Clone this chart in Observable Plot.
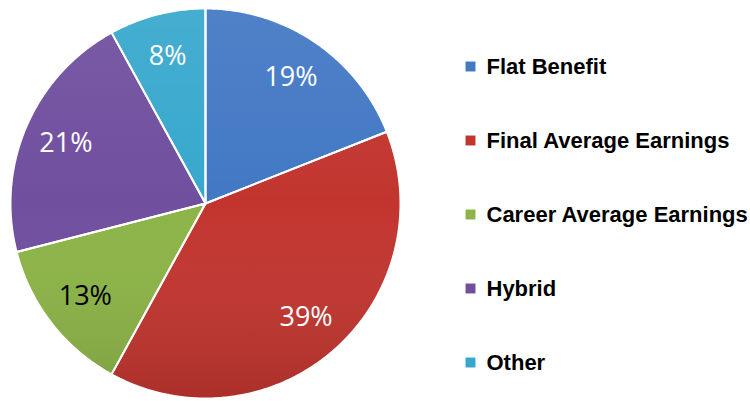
<!DOCTYPE html>
<html><head><meta charset="utf-8">
<script src="https://cdn.jsdelivr.net/npm/d3@7"></script>
<script src="https://cdn.jsdelivr.net/npm/@observablehq/plot@0.6"></script>
<style>
body{margin:0;background:#fff;}
#wrap{position:relative;width:750px;height:401px;overflow:hidden;}
#pie{position:absolute;left:0;top:0}
#legend{position:absolute;left:450px;top:0}
</style>
</head><body><div id="wrap"><div id="pie"></div><div id="legend"></div></div>
<script>
const categories = ["Flat Benefit","Final Average Earnings","Career Average Earnings","Hybrid","Other"];
const shares = [19,39,13,21,8];
const labels = ["19%","39%","13%","21%","8%"];
const colors = ["#4278c4","#c2352f","#8cb447","#704f9f","#37a8cd"];
const labelColors = ["white","white","black","white","white"];

const arcs = d3.pie().sort(null).value(d => d)(shares);
const pts = [];
const labelPts = [];
arcs.forEach((a, i) => {
  pts.push({name: categories[i], x: 0, y: 0});
  const n = Math.max(2, Math.ceil((a.endAngle - a.startAngle) / 0.01));
  for (let k = 0; k <= n; k++) {
    const t = a.startAngle + (a.endAngle - a.startAngle) * k / n;
    pts.push({name: categories[i], x: Math.sin(t), y: Math.cos(t)});
  }
  const m = (a.startAngle + a.endAngle) / 2;
  labelPts.push({name: categories[i], label: labels[i], c: labelColors[i], x: 0.78 * Math.sin(m), y: 0.78 * Math.cos(m)});
});

const pie = Plot.plot({
  width: 750, height: 401,
  marginLeft: 10, marginRight: 350, marginTop: 8, marginBottom: 3,
  x: {domain: [-1, 1], axis: null},
  y: {domain: [-1, 1], axis: null},
  color: {domain: categories, range: colors},
  style: {background: "transparent"},
  marks: [
    Plot.line(pts, {x: "x", y: "y", z: "name", fill: "name", stroke: "none", curve: "linear-closed"}),
    Plot.line(pts, {x: "x", y: "y", z: "name", fill: "url(#shade)", stroke: "white", strokeWidth: 2, curve: "linear-closed"}),
    Plot.text(labelPts.filter(d => d.c === "white"), {x: "x", y: "y", text: "label", fill: "white", fontSize: 27, fontFamily: "Open Sans"}),
    Plot.text(labelPts.filter(d => d.c === "black"), {x: "x", y: "y", text: "label", fill: "black", fontSize: 27, fontFamily: "Open Sans"})
  ]
});
const ns = "http://www.w3.org/2000/svg";
const defs = document.createElementNS(ns, "defs");
defs.innerHTML = '<linearGradient id="shade" gradientUnits="userSpaceOnUse" x1="0" y1="8" x2="0" y2="398">' +
  '<stop offset="0" stop-color="#fff" stop-opacity="0.07"/>' +
  '<stop offset="0.5" stop-color="#fff" stop-opacity="0"/>' +
  '<stop offset="1" stop-color="#000" stop-opacity="0.12"/></linearGradient>';
pie.insertBefore(defs, pie.firstChild);
document.getElementById("pie").appendChild(pie);

const legend = Plot.plot({
  width: 300, height: 401,
  marginLeft: 20, marginRight: 0, marginTop: 65, marginBottom: 39,
  x: {domain: [0, 1], axis: null},
  y: {type: "point", domain: categories, padding: 0, axis: null},
  color: {domain: categories, range: colors},
  marks: [
    Plot.dot(categories, {x: () => 0, y: d => d, fill: d => d, symbol: "square", r: 5.6}),
    Plot.text(categories, {x: () => 0, y: d => d, text: d => d, dx: 16, textAnchor: "start", fill: "black", fontWeight: "bold", fontSize: 22, fontFamily: "Liberation Sans Narrow, Arial Narrow, sans-serif"})
  ]
});
document.getElementById("legend").appendChild(legend);
</script>
</body></html>
